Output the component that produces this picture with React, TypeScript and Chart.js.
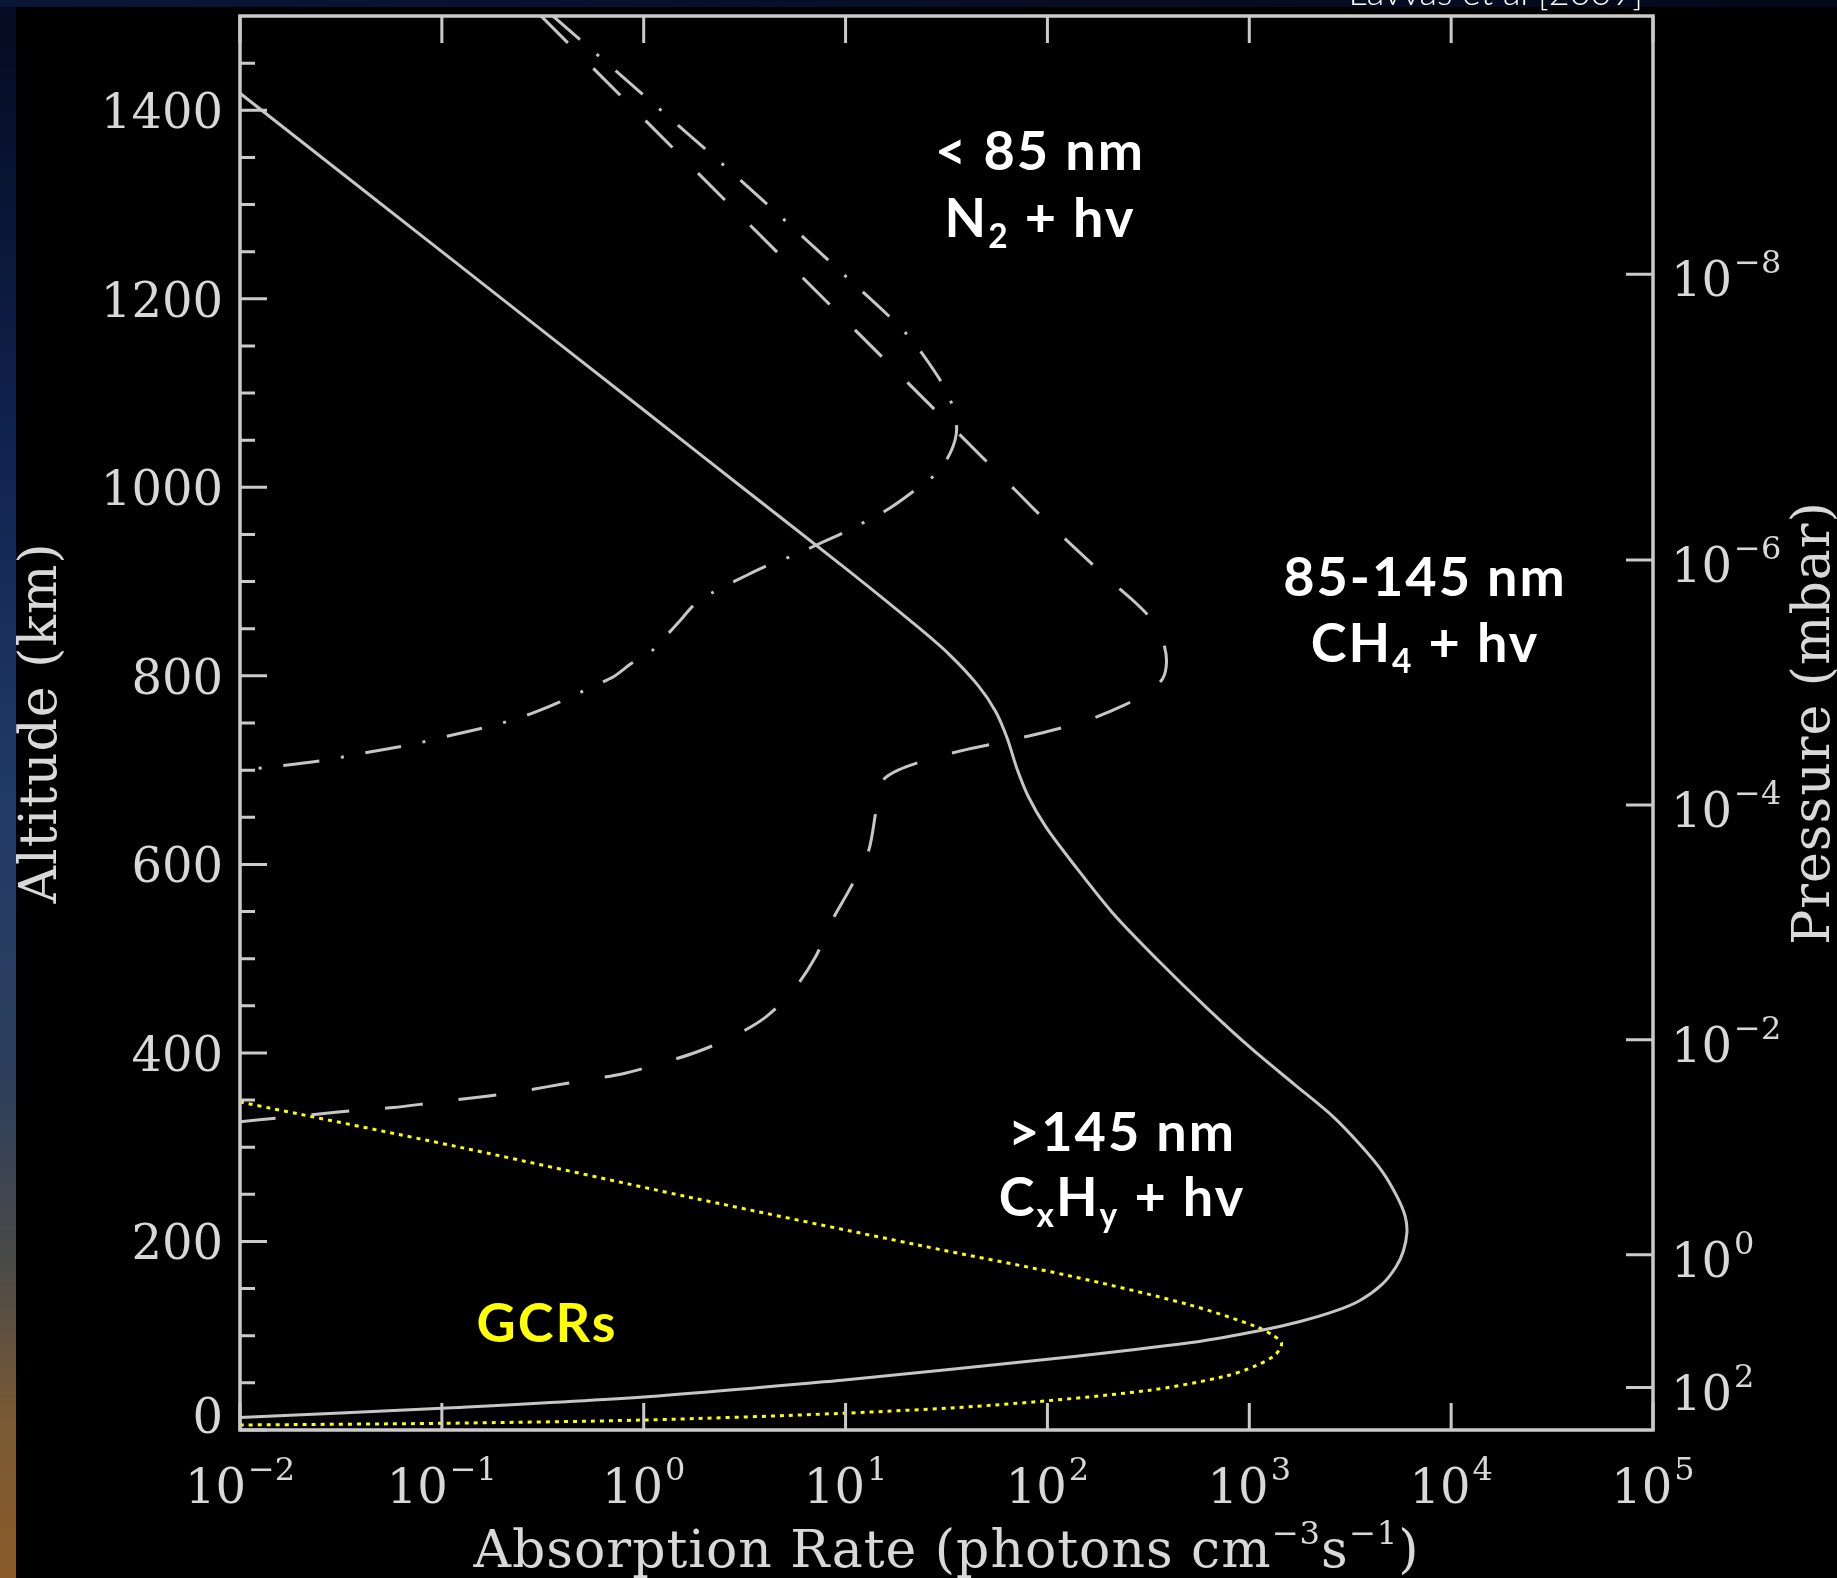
import React, { useEffect, useRef } from "react";
import { Chart, registerables } from "chart.js";

Chart.register(...registerables);

const CANVAS_W = 1837;
const CANVAS_H = 1578;

// ---------- data (absorption rate in photons cm^-3 s^-1, altitude in km) ----------
// >145 nm  (CxHy + hv)  — solid line
const cxhyRate = [0.01, 0.1, 1.0, 3.16, 10.0, 21.7, 32.4, 45.3, 55.3, 63.2, 70.3, 80.5, 98.4, 134, 211, 350, 614, 1040, 1672, 2600, 3581, 4560, 5420, 5916, 6039, 5794, 5346, 4560, 3532, 2673, 1786, 1119, 566, 132, 35.5, 9.6, 1.0, 0.1, 0.01];
const cxhyAlt = [1418, 1250, 1082, 998, 914, 855.7, 823.4, 789.9, 762.5, 733.9, 702.9, 671.8, 639.5, 601, 548.2, 499.1, 448.1, 403.4, 366.7, 332.5, 301.5, 274.1, 246.8, 226.9, 209.6, 189.6, 173.5, 154.8, 137.4, 126.3, 115.1, 105.2, 94, 77.8, 65, 52.9, 35, 23.1, 13.2];

// 85-145 nm (CH4 + hv) — dashed line
const ch4Rate = [0.31, 1.0, 3.16, 10, 31.6, 70.8, 100, 200, 275, 339, 376, 389, 372, 316, 240, 158, 100, 63, 40, 26.3, 18.2, 15.1, 14.3, 14.0, 12.9, 10.5, 8.5, 7.1, 5.53, 4.02, 2.75, 1.83, 1.22, 0.79, 0.51, 0.33, 0.213, 0.137, 0.089, 0.0575, 0.037, 0.024, 0.0155, 0.01];
const ch4Alt = [1500, 1391, 1284, 1177, 1070, 995, 963, 903, 877, 856, 835, 815, 797, 783, 769, 753, 741, 731, 722, 712, 700, 688, 670, 651, 612, 574, 539, 502, 467, 438, 417, 401, 389, 378, 371, 364, 357, 352, 347, 342, 339, 335, 331, 327];

// <85 nm (N2 + hv) — dash-dot line
const n2Rate = [0.355, 1.0, 3.16, 10, 20, 28.2, 33.1, 35.5, 33.1, 28.2, 22.4, 16.6, 12.6, 10.5, 8.1, 5.55, 4.2, 3.26, 2.22, 1.77, 1.52, 1.26, 1.09, 0.867, 0.708, 0.562, 0.372, 0.277, 0.184, 0.106, 0.0703, 0.0406, 0.027, 0.0151, 0.01];
const n2Alt = [1500, 1416, 1322, 1224, 1163, 1120, 1092, 1062, 1037, 1015, 998, 978, 964, 955, 944, 928, 918, 907, 889, 875, 859, 840, 826, 813, 799, 789, 771, 760, 748, 736, 727, 718, 711, 704, 700];

// Galactic cosmic rays — yellow dotted line
const gcrRate = [0.01, 0.1225, 1.68, 23.1, 132, 501, 1072, 1318, 1445, 1349, 1072, 759, 316, 55, 9.55, 1.0, 0.1, 0.01];
const gcrAlt = [348, 300, 247, 196, 163, 133, 110, 100, 92, 80, 68, 57, 42, 26.5, 17.7, 10.6, 7.1, 5.3];

// ---------- axes ----------
const xTickExponents = [-2, -1, 0, 1, 2, 3, 4, 5];
const altMajorTicks = [0, 200, 400, 600, 800, 1000, 1200, 1400];
const altMinorTicks = [50, 100, 150, 250, 300, 350, 450, 500, 550, 650, 700, 750, 850, 900, 950, 1050, 1100, 1150, 1250, 1300, 1350, 1450];
const pressureTickAlt = [1226, 923, 663, 414, 186, 45];
const pressureTickExp = [-8, -6, -4, -2, 0, 2];

const xTitle = "Absorption Rate (photons cm";
const yTitle = "Altitude (km)";
const y2Title = "Pressure (mbar)";
const sourceNote = "Lavvas et al [2009]";

const SERIF = '"DejaVu Serif", "Liberation Serif", serif';
const SANS = 'Lato, "Open Sans", sans-serif';
const AXIS = "#cacaca";
const TXT = "#d8d8d8";
const CURVE = "#c6c6c6";

const toPts = (xs: number[], ys: number[]) => xs.map((x, i) => ({ x, y: ys[i] }));

const minus = (n: number) => (n < 0 ? "\u2212" + Math.abs(n) : String(n));

type Part = { t: string; m?: "sub" | "sup" };

function drawRich(ctx: CanvasRenderingContext2D, parts: Part[], cx: number, baseline: number, size: number, family: string, weight: string, color: string, spacing: number, align: "center" | "left" | "right" = "center") {
  const subSize = size * 0.62;
  const widths = parts.map((p) => {
    ctx.font = `${weight} ${p.m ? subSize : size}px ${family}`;
    (ctx as any).letterSpacing = `${spacing}px`;
    return ctx.measureText(p.t).width;
  });
  const total = widths.reduce((a, b) => a + b, 0);
  let x = align === "center" ? cx - total / 2 : align === "right" ? cx - total : cx;
  ctx.fillStyle = color;
  ctx.textAlign = "left";
  ctx.textBaseline = "alphabetic";
  parts.forEach((p, i) => {
    ctx.font = `${weight} ${p.m ? subSize : size}px ${family}`;
    (ctx as any).letterSpacing = `${spacing}px`;
    const dy = p.m === "sub" ? size * 0.2 : p.m === "sup" ? -size * 0.45 : 0;
    ctx.fillText(p.t, x, baseline + dy);
    x += widths[i];
  });
  (ctx as any).letterSpacing = "0px";
}

function drawPow(ctx: CanvasRenderingContext2D, exp: number, x: number, baseline: number, align: "center" | "left") {
  const base = "10";
  const e = minus(exp);
  ctx.font = `48px ${SERIF}`;
  const bw = ctx.measureText(base).width;
  ctx.font = `32px ${SERIF}`;
  const ew = ctx.measureText(e).width;
  const total = bw + 2 + ew;
  const x0 = align === "center" ? x - total / 2 : x;
  ctx.fillStyle = TXT;
  ctx.textAlign = "left";
  ctx.textBaseline = "alphabetic";
  ctx.font = `48px ${SERIF}`;
  ctx.fillText(base, x0, baseline);
  ctx.font = `32px ${SERIF}`;
  ctx.fillText(e, x0 + bw + 2, baseline - 23);
}

const framePlugin = {
  id: "frame",
  beforeDraw(chart: any) {
    const ctx: CanvasRenderingContext2D = chart.ctx;
    ctx.save();
    ctx.fillStyle = "#000";
    ctx.fillRect(0, 0, CANVAS_W, CANVAS_H);
    const lg = ctx.createLinearGradient(0, 0, 0, CANVAS_H);
    lg.addColorStop(0, "#040a20");
    lg.addColorStop(0.3, "#112452");
    lg.addColorStop(0.5, "#203a68");
    lg.addColorStop(0.68, "#2c3e5c");
    lg.addColorStop(0.8, "#4a4a48");
    lg.addColorStop(0.9, "#7a5a34");
    lg.addColorStop(1, "#8a5a28");
    ctx.fillStyle = lg;
    ctx.fillRect(0, 0, 16, CANVAS_H);
    const tg = ctx.createLinearGradient(0, 0, CANVAS_W, 0);
    tg.addColorStop(0, "#0a1636");
    tg.addColorStop(1, "#03081a");
    ctx.fillStyle = tg;
    ctx.fillRect(0, 0, CANVAS_W, 7);
    ctx.restore();
  },
  afterDraw(chart: any) {
    const ctx: CanvasRenderingContext2D = chart.ctx;
    const xs = chart.scales.x;
    const ys = chart.scales.y;
    const y2 = chart.scales.y2;
    const left = xs.getPixelForValue(Math.pow(10, xTickExponents[0]));
    const right = xs.getPixelForValue(Math.pow(10, xTickExponents[xTickExponents.length - 1]));
    const top = ys.getPixelForValue(1500);
    const bottom = ys.getPixelForValue(0);
    ctx.save();
    ctx.strokeStyle = AXIS;
    ctx.lineWidth = 3.5;
    ctx.setLineDash([]);
    ctx.strokeRect(left, top, right - left, bottom - top);
    ctx.lineWidth = 3;
    ctx.beginPath();
    xTickExponents.forEach((e) => {
      const px = xs.getPixelForValue(Math.pow(10, e));
      ctx.moveTo(px, bottom);
      ctx.lineTo(px, bottom - 27);
      ctx.moveTo(px, top);
      ctx.lineTo(px, top + 27);
    });
    altMajorTicks.forEach((a) => {
      const py = ys.getPixelForValue(a);
      ctx.moveTo(left, py);
      ctx.lineTo(left + 27, py);
    });
    altMinorTicks.forEach((a) => {
      const py = ys.getPixelForValue(a);
      ctx.moveTo(left, py);
      ctx.lineTo(left + 15, py);
    });
    pressureTickAlt.forEach((a) => {
      const py = y2.getPixelForValue(a);
      ctx.moveTo(right, py);
      ctx.lineTo(right - 27, py);
    });
    ctx.stroke();

    // tick labels
    ctx.fillStyle = TXT;
    xTickExponents.forEach((e) => {
      const px = xs.getPixelForValue(Math.pow(10, e));
      drawPow(ctx, e, px, bottom + 73, "center");
    });
    altMajorTicks.forEach((a) => {
      const py = Math.min(ys.getPixelForValue(a), bottom - 15);
      ctx.fillStyle = TXT;
      ctx.font = `48px ${SERIF}`;
      ctx.textAlign = "right";
      ctx.textBaseline = "alphabetic";
      ctx.fillText(String(a), left - 17, py + 18);
    });
    pressureTickAlt.forEach((a, i) => {
      const py = y2.getPixelForValue(a);
      drawPow(ctx, pressureTickExp[i], right + 18, py + 22, "left");
    });

    // axis titles
    drawRich(ctx, [{ t: xTitle }, { t: "\u22123", m: "sup" }, { t: "s" }, { t: "\u22121", m: "sup" }, { t: ")" }], (left + right) / 2, bottom + 137, 52, SERIF, "normal", TXT, 1);
    ctx.save();
    ctx.translate(56, (top + bottom) / 2);
    ctx.rotate(-Math.PI / 2);
    drawRich(ctx, [{ t: yTitle }], 0, 0, 52, SERIF, "normal", TXT, 1);
    ctx.restore();
    ctx.save();
    ctx.translate(1829, (top + bottom) / 2);
    ctx.rotate(-Math.PI / 2);
    drawRich(ctx, [{ t: y2Title }], 0, 0, 52, SERIF, "normal", TXT, 1);
    ctx.restore();

    // annotations
    drawRich(ctx, [{ t: "< 85 nm" }], 1040, 170, 54, SANS, "bold", "#fff", 2);
    drawRich(ctx, [{ t: "N" }, { t: "2", m: "sub" }, { t: " + hv" }], 1040, 237, 54, SANS, "bold", "#fff", 2);
    drawRich(ctx, [{ t: "85-145 nm" }], 1425, 596, 54, SANS, "bold", "#fff", 2);
    drawRich(ctx, [{ t: "CH" }, { t: "4", m: "sub" }, { t: " + hv" }], 1425, 662, 54, SANS, "bold", "#fff", 2);
    drawRich(ctx, [{ t: ">145 nm" }], 1122, 1151, 54, SANS, "bold", "#fff", 2);
    drawRich(ctx, [{ t: "C" }, { t: "x", m: "sub" }, { t: "H" }, { t: "y", m: "sub" }, { t: " + hv" }], 1122, 1216, 54, SANS, "bold", "#fff", 2);
    drawRich(ctx, [{ t: "GCRs" }], 547, 1342, 54, SANS, "bold", "#ffff00", 2);

    // source note (mostly cut off at the top of the page)
    drawRich(ctx, [{ t: sourceNote }], 1643, 5, 36, SANS, "300", "#ffffff", 0, "right");
    ctx.restore();
  },
};

export default function App() {
  const ref = useRef<HTMLCanvasElement | null>(null);
  useEffect(() => {
    const canvas = ref.current;
    if (!canvas) return;
    const common = { showLine: true, pointRadius: 0, fill: false, tension: 0.3, xAxisID: "x", yAxisID: "y" };
    const chart = new Chart(canvas, {
      type: "scatter",
      data: {
        datasets: [
          { ...common, label: ">145 nm", data: toPts(cxhyRate, cxhyAlt), borderColor: CURVE, borderWidth: 3, borderDash: [] },
          { ...common, label: "85-145 nm", data: toPts(ch4Rate, ch4Alt), borderColor: CURVE, borderWidth: 3, borderDash: [38, 36] },
          { ...common, label: "<85 nm", data: toPts(n2Rate, n2Alt), borderColor: CURVE, borderWidth: 3, borderDash: [36, 22, 3, 22] },
          { ...common, label: "GCRs", data: toPts(gcrRate, gcrAlt), borderColor: "#ffff00", borderWidth: 3, borderDash: [4, 5] },
        ] as any,
      },
      options: {
        responsive: false,
        animation: false,
        devicePixelRatio: 1,
        events: [],
        layout: { padding: { left: 240, top: 16, right: CANVAS_W - 1653, bottom: CANVAS_H - 1430 } },
        plugins: { legend: { display: false }, tooltip: { enabled: false }, title: { display: false } },
        scales: {
          x: { type: "logarithmic", min: 0.01, max: 1e5, display: false },
          y: { type: "linear", min: 0, max: 1500, display: false },
          y2: { type: "linear", min: 0, max: 1500, display: false, position: "right" },
        },
      } as any,
      plugins: [framePlugin as any],
    });
    return () => chart.destroy();
  }, []);
  return (
    <div style={{ position: "absolute", left: 0, top: 0, width: CANVAS_W, height: CANVAS_H, overflow: "hidden", background: "#000" }}>
      <canvas ref={ref} width={CANVAS_W} height={CANVAS_H} style={{ display: "block", width: CANVAS_W, height: CANVAS_H }} />
    </div>
  );
}
